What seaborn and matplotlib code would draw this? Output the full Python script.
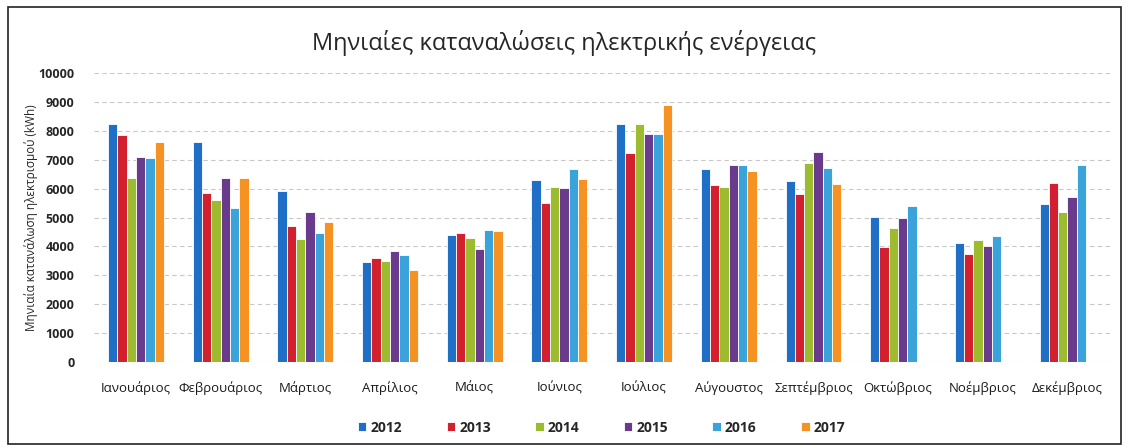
import matplotlib
matplotlib.use("Agg")
import matplotlib.pyplot as plt
import pandas as pd
import seaborn as sns
from matplotlib.patches import Rectangle

months = ["Ιανουάριος", "Φεβρουάριος", "Μάρτιος", "Απρίλιος", "Μάιος", "Ιούνιος",
          "Ιούλιος", "Αύγουστος", "Σεπτέμβριος", "Οκτώβριος", "Νοέμβριος", "Δεκέμβριος"]
years = ["2012", "2013", "2014", "2015", "2016", "2017"]
v2012 = [8250, 7610, 5920, 3460, 4390, 6300, 8240, 6680, 6260, 5020, 4120, 5470]
v2013 = [7850, 5850, 4710, 3600, 4460, 5500, 7230, 6120, 5810, 3980, 3740, 6190]
v2014 = [6370, 5600, 4260, 3500, 4290, 6060, 8240, 6060, 6880, 4630, 4230, 5190]
v2015 = [7100, 6370, 5190, 3840, 3910, 6020, 7890, 6820, 7260, 4990, 4020, 5700]
v2016 = [7060, 5330, 4470, 3700, 4570, 6680, 7890, 6820, 6710, 5400, 4360, 6820]
v2017 = [7610, 6370, 4840, 3180, 4530, 6330, 8890, 6610, 6160, None, None, None]
colors = ["#1f6fc6", "#d3202f", "#9dbb2e", "#6a3a8c", "#3aa3d9", "#f59222"]

rows = []
for y, vals in zip(years, [v2012, v2013, v2014, v2015, v2016, v2017]):
    for m, v in zip(months, vals):
        if v is not None:
            rows.append({"month": m, "year": y, "kwh": v})
df = pd.DataFrame(rows)

sns.set_style("white")
plt.rcParams['font.family'] = ['Open Sans', 'DejaVu Sans']

fig = plt.figure(figsize=(11.29, 4.48), dpi=100)
ax = fig.add_axes([0.083, 0.192, 0.900, 0.645])
sns.barplot(data=df, x="month", y="kwh", hue="year", order=months, hue_order=years,
            palette=colors, saturation=1, width=0.66, edgecolor="white", linewidth=0.6,
            ax=ax)

ax.set_ylim(0, 10000)
ax.set_xlim(-0.5, 11.5)
ax.set_yticks(range(0, 10001, 1000))
ax.yaxis.grid(True, linestyle=(0, (4, 3)), color="#c8c8c8", linewidth=0.8)
ax.set_axisbelow(True)
for s in ax.spines.values():
    s.set_visible(False)
ax.tick_params(axis="both", length=0)
ax.tick_params(axis="y", labelsize=9, pad=14)
ax.tick_params(axis="x", labelsize=9.5, pad=14, labelcolor="#1a1a1a")
for lab in ax.get_yticklabels():
    lab.set_fontweight("bold")
ax.set_xlabel("")
ax.set_ylabel("Μηνιαία κατανάλωση ηλεκτρισμού (kWh)", fontsize=8.5)
ax.yaxis.set_label_coords(-0.055, 0.5)

ax.legend(loc="upper center", bbox_to_anchor=(0.5, -0.16), ncol=6, frameon=False,
          handlelength=0.6, handleheight=0.6, columnspacing=3.2,
          handletextpad=0.3, prop={"weight": "bold", "size": 10})

fig.text(0.5, 0.905, "Μηνιαίες καταναλώσεις ηλεκτρικής ενέργειας", ha="center",
         va="center", fontsize=17)

fig.patches.append(Rectangle((0.007, 0.01), 0.986, 0.975, transform=fig.transFigure,
                             fill=False, edgecolor="#222222", linewidth=1.2))

fig.savefig("out.png", dpi=100)
